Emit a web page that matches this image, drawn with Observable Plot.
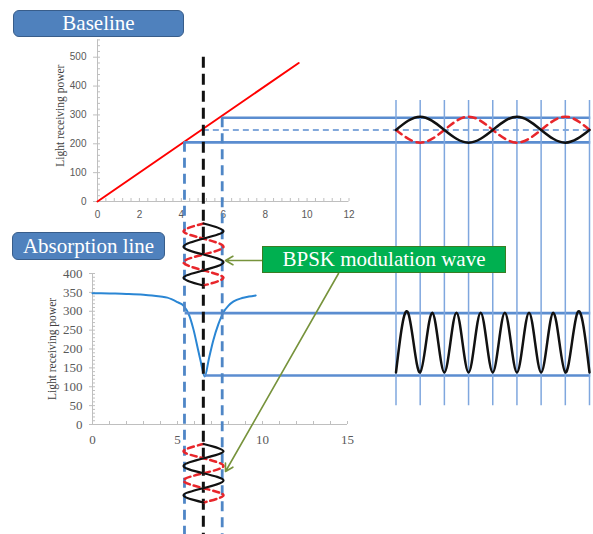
<!DOCTYPE html>
<html>
<head>
<meta charset="utf-8">
<script src="https://cdn.jsdelivr.net/npm/d3@7"></script>
<script src="https://cdn.jsdelivr.net/npm/@observablehq/plot@0.6"></script>
<style>
  body { margin: 0; background: #fff; }
  #wrap { position: relative; width: 593px; height: 534px; overflow: hidden; background: #fff; }
  #wrap svg { position: absolute; left: 0; top: 0; }
  .box { position: absolute; box-sizing: border-box; color: #fff; display: flex; align-items: center; justify-content: center;
         font-family: "Liberation Serif", "Times New Roman", serif; font-size: 21px; white-space: nowrap; }
</style>
</head>
<body>
<div id="wrap"></div>
<script>
// ---------------- data ----------------
// Baseline chart (red line): wavelength vs light receiving power
const baselineX = [0, 9.6];
const baselinePower = [0, 480];
const baselineTicksX = [0, 2, 4, 6, 8, 10, 12];
const baselineTicksY = [0, 100, 200, 300, 400, 500];

// Absorption line chart (blue curve)
const absorptionX = [0, 1, 2, 3, 3.5, 4, 4.4, 5, 5.35, 5.7, 5.95, 6.2, 6.35, 6.6, 6.85, 7.1, 7.4, 7.7, 8, 8.3, 8.8, 9.2, 9.6];
const absorptionPower = [348, 347, 346, 344, 342, 339, 336, 324, 315, 288, 250, 200, 170, 127, 175, 222, 265, 297, 315, 326, 335, 339, 342];
const absorptionTicksX = [0, 5, 10, 15];
const absorptionTicksY = [0, 50, 100, 150, 200, 250, 300, 350, 400];

const yTitle = "Light receiving power";

// modulation swing on the baseline: low / centre / high
const baseSwingX = [4.15, 5.05, 5.95];
const baseSwingPower = [205, 247.5, 290];
const probeTopPower = [205, 500, 290];     // where the vertical probe lines start
// levels on the absorption line: high / low
const absLevelX = [5.45, 6.6];
const absLevelPower = [295, 130];

// right-hand detector signals (x in grid steps)
const panelSteps = [0, 1, 2, 3, 4, 5, 6, 7, 8];
const gridTopPower = 350;      // top chart units
const gridBottomPower = 50;    // bottom chart units
const baseSignalSolid = [248, 294, 248, 204, 248, 294, 248, 204, 248];
const baseSignalDashed = [248, 204, 248, 294, 248, 204, 248, 294, 248];
const absSignalSteps = [0, 0.5, 1, 1.5, 2, 2.5, 3, 3.5, 4, 4.5, 5, 5.5, 6, 6.5, 7, 7.5, 8];
const absSignalPower = [138, 296, 138, 296, 138, 296, 138, 296, 138, 296, 138, 296, 138, 296, 138, 296, 138];

// BPSK modulation wave icons (quarter periods at the turning points, normalised swing)
const iconQuarter = [0, 1, 3, 5, 7, 8];
const iconSolid = [0, 1, -1, 1, -1, 0];
const iconDashed = [0, -1, 1, -1, 1, 0];

// callout arrows from the label (layout units)
const calloutX1 = [262, 338];
const calloutY1 = [260, 273];
const calloutX2 = [225, 225];
const calloutY2 = [260, 471];

const labelBaseline = "Baseline";
const labelAbsorption = "Absorption line";
const labelBPSK = "BPSK modulation wave";

// ---------------- layout / style ----------------
const W = 593, H = 534;
const SERIF = "'Liberation Serif','Times New Roman',serif";
const SANS = "'Liberation Sans',Arial,sans-serif";
const AXIS = "#BFBFBF";
const BLUE = "#4F86C6";
const HLINE = "#5B8DD0";
const GRID = "#7FA7DE";
const RED = "#E8262B";

const topXS = {domain: [0, 12], range: [97, 348.5]};
const topYS = {domain: [0, 560], range: [201, 39.4]};
const botXS = {domain: [0, 15], range: [92, 347]};
const botYS = {domain: [0, 400], range: [424, 273]};
const panXS = {domain: [0, 8], range: [395.5, 589]};

const sTopX = Plot.scale({x: topXS}), sTopY = Plot.scale({y: topYS});
const sBotX = Plot.scale({x: botXS}), sBotY = Plot.scale({y: botYS});
const sPanX = Plot.scale({x: panXS});

const topEnd = sTopX.invert(sPanX.apply(8.05));
const botEnd = sBotX.invert(sPanX.apply(8.05));
const topBottom = sTopY.invert(H);
const gridBottomInTop = sTopY.invert(sBotY.apply(gridBottomPower));

const common = {width: W, height: H, style: {background: "transparent", overflow: "visible"}};

const baselinePts = baselineX.map((x, i) => ({x, y: baselinePower[i]}));
const absPts = absorptionX.map((x, i) => ({x, y: absorptionPower[i]}));
const swing = baseSwingX.map((x, i) => ({x, p: baseSwingPower[i], top: probeTopPower[i], i}));
const absLevels = absLevelX.map((x, i) => ({x, p: absLevelPower[i]}));

// ---------------- bottom chart: Absorption line ----------------
const plotB = Plot.plot({
  ...common,
  marginLeft: 92, marginRight: W - 347, marginTop: 273, marginBottom: H - 424,
  x: botXS, y: botYS,
  marks: [
    Plot.ruleX([0], {y1: 0, y2: 400, stroke: AXIS}),
    Plot.ruleY([0], {x1: 0, x2: 15, stroke: AXIS}),
    Plot.axisX({interval: 1, tickSize: -3, stroke: AXIS, fill: "none", label: null}),
    Plot.axisX(absorptionTicksX, {tickSize: 0, tickPadding: 10, fill: "#595959", fontSize: 13, fontFamily: SERIF, label: null}),
    Plot.axisY({interval: 10, tickSize: -3, stroke: AXIS, fill: "none", label: null}),
    Plot.axisY(absorptionTicksY, {tickSize: 3, tickPadding: 7, stroke: AXIS, fill: "#595959", fontSize: 13, fontFamily: SERIF, label: null}),
    Plot.text([yTitle], {x: 0, y: 200, dx: -40, rotate: -90, fontFamily: SERIF, fontSize: 11.5, fill: "#404040"}),
    Plot.line(absPts, {x: "x", y: "y", curve: "monotone-x", stroke: "#2A86D4", strokeWidth: 2}),
    Plot.ruleY(absLevels, {y: "p", x1: "x", x2: botEnd, stroke: HLINE, strokeWidth: 2.6})
  ]
});

// ---------------- top chart: Baseline ----------------
const plotA = Plot.plot({
  ...common,
  marginLeft: 97, marginRight: W - 348.5, marginTop: 39.4, marginBottom: H - 201,
  x: topXS, y: topYS,
  marks: [
    Plot.ruleX([0], {y1: 0, y2: 560, stroke: AXIS}),
    Plot.ruleY([0], {x1: 0, x2: 12, stroke: AXIS}),
    Plot.axisX({interval: 0.4, tickSize: -3, stroke: AXIS, fill: "none", label: null}),
    Plot.axisX(baselineTicksX, {tickSize: 0, tickPadding: 9, fill: "#595959", fontSize: 10, fontFamily: SANS, label: null}),
    Plot.axisY({interval: 20, tickSize: -3, stroke: AXIS, fill: "none", label: null}),
    Plot.axisY(baselineTicksY, {tickSize: 4, tickPadding: 7, stroke: AXIS, fill: "#595959", fontSize: 10, fontFamily: SANS, label: null}),
    Plot.text([yTitle], {x: 0, y: 280, dx: -37, dy: -5, rotate: -90, fontFamily: SERIF, fontSize: 11.5, fill: "#404040"}),
    Plot.line(baselinePts, {x: "x", y: "y", stroke: "#FF0000", strokeWidth: 2}),
    Plot.ruleY(swing.filter(d => d.i !== 1), {y: "p", x1: "x", x2: topEnd, stroke: HLINE, strokeWidth: 2.6}),
    Plot.ruleY(swing.filter(d => d.i === 1), {y: "p", x1: "x", x2: topEnd, stroke: HLINE, strokeWidth: 1.5, strokeDasharray: "6,4"}),
    Plot.ruleX(swing.filter(d => d.i !== 1), {x: "x", y1: "top", y2: topBottom, stroke: BLUE, strokeWidth: 2.8, strokeDasharray: "10,6"}),
    Plot.ruleX(swing.filter(d => d.i === 1), {x: "x", y1: "top", y2: topBottom, stroke: "#111", strokeWidth: 3, strokeDasharray: "11,6"})
  ]
});

// ---------------- right panel: detector signals ----------------
const solidPts = panelSteps.map((s, i) => ({s, p: baseSignalSolid[i]}));
const dashedPts = panelSteps.map((s, i) => ({s, p: baseSignalDashed[i]}));
const absSigPts = absSignalSteps.map((s, i) => ({s, p: absSignalPower[i]}));

const plotP1 = Plot.plot({
  ...common, margin: 0,
  x: {...panXS, axis: null}, y: {...topYS, axis: null},
  marks: [
    Plot.ruleX(panelSteps, {y1: gridTopPower, y2: gridBottomInTop, stroke: GRID, strokeWidth: 1.5}),
    Plot.line(dashedPts, {x: "s", y: "p", curve: "natural", stroke: RED, strokeWidth: 2.5, strokeDasharray: "7,5"}),
    Plot.line(solidPts, {x: "s", y: "p", curve: "natural", stroke: "#111", strokeWidth: 2.5})
  ]
});

const plotP2 = Plot.plot({
  ...common, margin: 0,
  x: {...panXS, axis: null}, y: {...botYS, axis: null},
  marks: [
    Plot.line(absSigPts, {x: "s", y: "p", curve: "natural", stroke: "#111", strokeWidth: 2.5})
  ]
});

// ---------------- BPSK icons ----------------
function icon(yRange) {
  const sol = iconQuarter.map((q, i) => ({q, v: iconSolid[i]}));
  const das = iconQuarter.map((q, i) => ({q, v: iconDashed[i]}));
  return Plot.plot({
    ...common, margin: 0,
    x: {domain: [-1, 1], range: [183, 223], axis: null},
    y: {domain: [0, 8], range: yRange, axis: null},
    marks: [
      Plot.line(das, {x: "v", y: "q", curve: "catmull-rom", stroke: RED, strokeWidth: 2.5, strokeDasharray: "6,4"}),
      Plot.line(sol, {x: "v", y: "q", curve: "catmull-rom", stroke: "#111", strokeWidth: 2.2})
    ]
  });
}
const icon1 = icon([223, 285]);
const icon2 = icon([443.5, 502]);

// ---------------- callout arrows ----------------
const callouts = calloutX1.map((x1, i) => ({x1, y1: calloutY1[i], x2: calloutX2[i], y2: calloutY2[i]}));
const plotC = Plot.plot({
  ...common, margin: 0,
  x: {domain: [0, W], range: [0, W], axis: null},
  y: {domain: [0, H], range: [0, H], axis: null},
  marks: [
    Plot.arrow(callouts, {x1: "x1", y1: "y1", x2: "x2", y2: "y2", stroke: "#77933C", strokeWidth: 1.6, headLength: 8, headAngle: 60})
  ]
});

const wrap = document.getElementById("wrap");
[plotB, plotA, plotP1, plotP2, icon1, icon2, plotC].forEach(p => wrap.appendChild(p));

function addBox(text, css) {
  const d = document.createElement("div");
  d.className = "box";
  d.textContent = text;
  d.style.cssText += css;
  wrap.appendChild(d);
}
addBox(labelBaseline, "left:13px;top:10px;width:171px;height:27px;background:#4F81BD;border:1.5px solid #385D8A;border-radius:6px;");
addBox(labelAbsorption, "left:12px;top:232px;width:153px;height:28px;background:#4F81BD;border:1.5px solid #385D8A;border-radius:6px;");
addBox(labelBPSK, "left:262px;top:246px;width:244px;height:27px;background:#00B050;border:1.5px solid #3A7D22;");
</script>
</body>
</html>
